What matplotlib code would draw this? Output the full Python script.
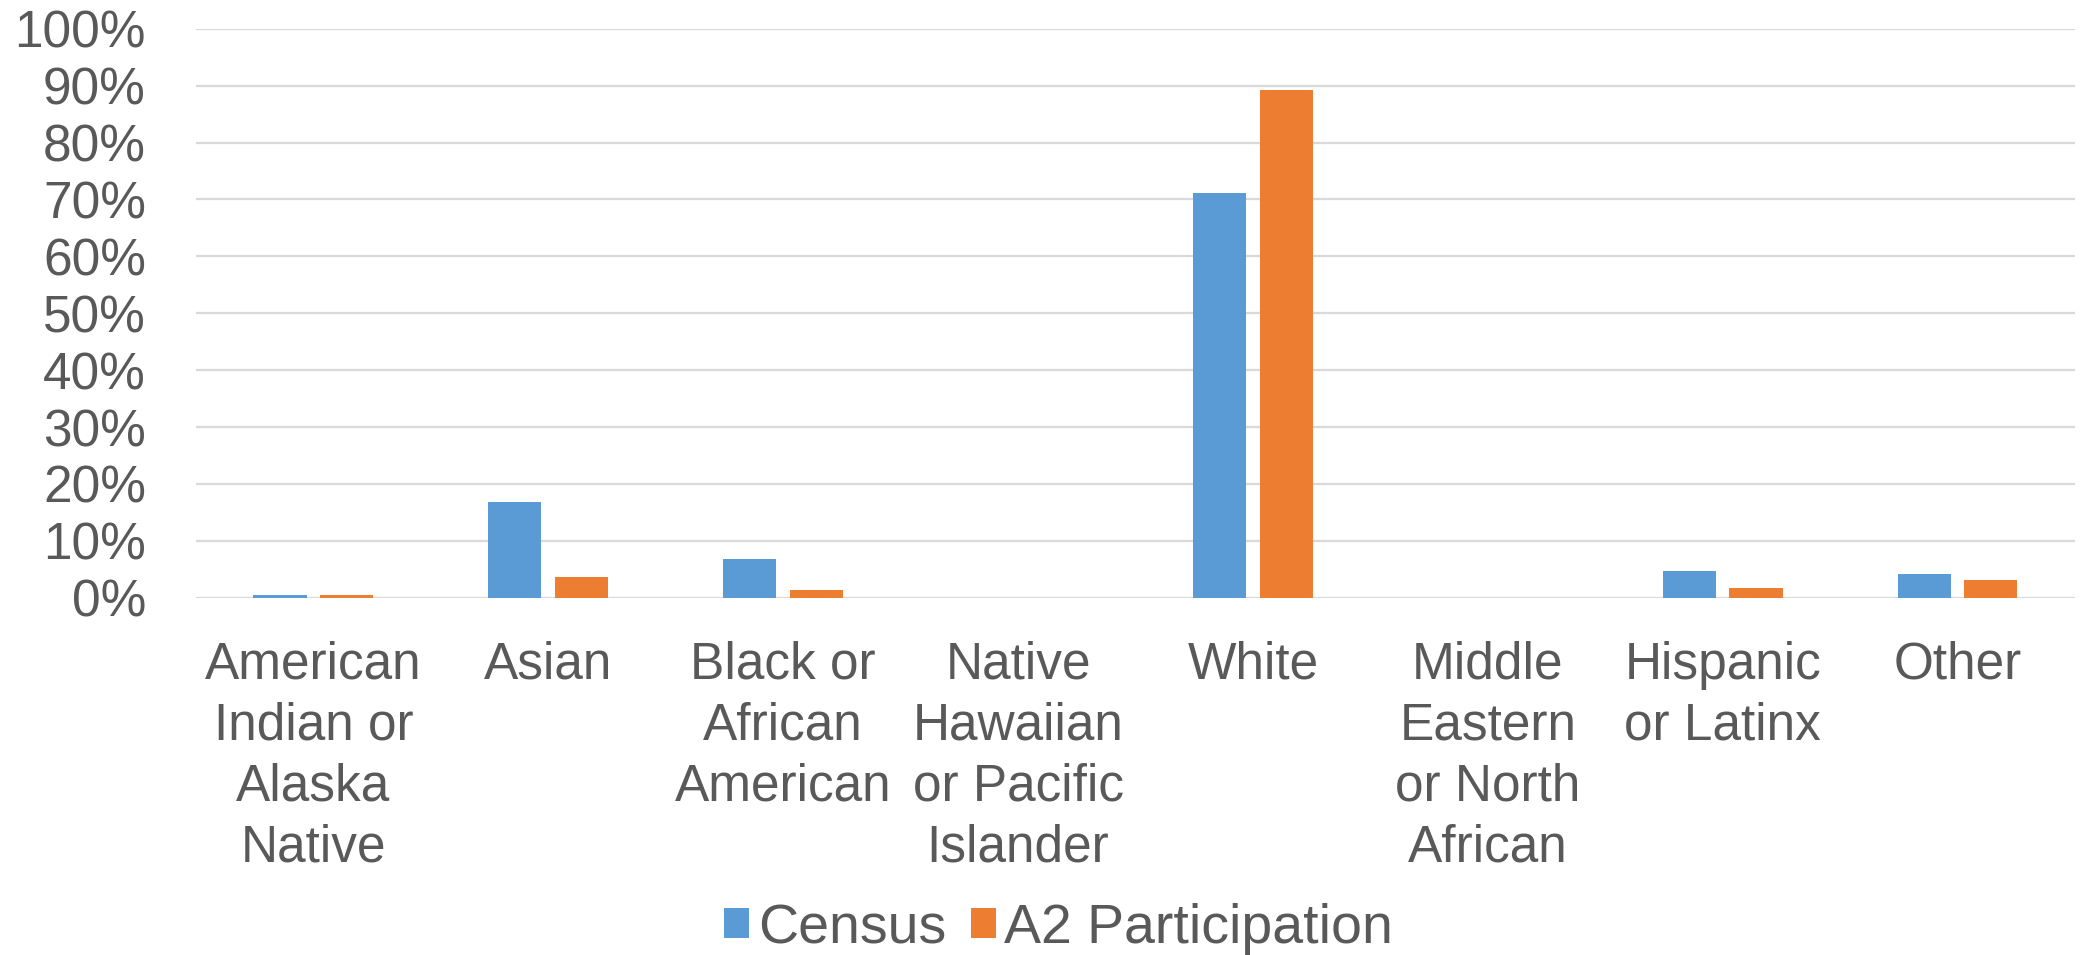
import matplotlib
matplotlib.use("Agg")
import matplotlib.pyplot as plt
import numpy as np

# Data (percent of population)
categories = [
    "American\nIndian or\nAlaska\nNative",
    "Asian",
    "Black or\nAfrican\nAmerican",
    "Native\nHawaiian\nor Pacific\nIslander",
    "White",
    "Middle\nEastern\nor North\nAfrican",
    "Hispanic\nor Latinx",
    "Other",
]
census = [0.4, 16.9, 6.8, 0.0, 71.1, 0.0, 4.75, 4.1]
a2_participation = [0.45, 3.6, 1.35, 0.0, 89.2, 0.0, 1.65, 3.2]
y_ticks = list(range(0, 101, 10))

text_color = "#595959"
blue = "#5B9BD5"
orange = "#ED7D31"

plt.rcParams["font.family"] = ["Liberation Sans", "DejaVu Sans"]
fs = 37

fig = plt.figure(figsize=(20.8, 9.55), dpi=100)
ax = fig.add_axes([0.0942, 0.3741, 0.9034, 0.5958])

x = np.arange(len(categories))
w = 0.226
off = 0.142
ax.bar(x - off, census, width=w, color=blue, label="Census", zorder=3)
ax.bar(x + off, a2_participation, width=w, color=orange, label="A2 Participation", zorder=3)

ax.set_xlim(-0.5, len(categories) - 0.5)
ax.set_ylim(0, 100)
ax.set_yticks(y_ticks)
ax.set_yticklabels([f"{t}%" for t in y_ticks])
ax.set_xticks(x)
ax.set_xticklabels(categories, linespacing=1.31)

ax.grid(axis="y", color="#d9d9d9", linewidth=1.6, zorder=0)
ax.set_axisbelow(True)
for s in ax.spines.values():
    s.set_visible(False)
ax.tick_params(axis="both", length=0, labelsize=fs, labelcolor=text_color)
ax.tick_params(axis="y", pad=36)
ax.tick_params(axis="x", pad=31)

fig.legend(loc="center", bbox_to_anchor=(0.509, 0.027), ncol=2, frameon=False,
           fontsize=40, labelcolor=text_color, handlelength=0.45, handleheight=0.45,
           handletextpad=0.15, columnspacing=0.45)

fig.savefig("out.png", dpi=100)
